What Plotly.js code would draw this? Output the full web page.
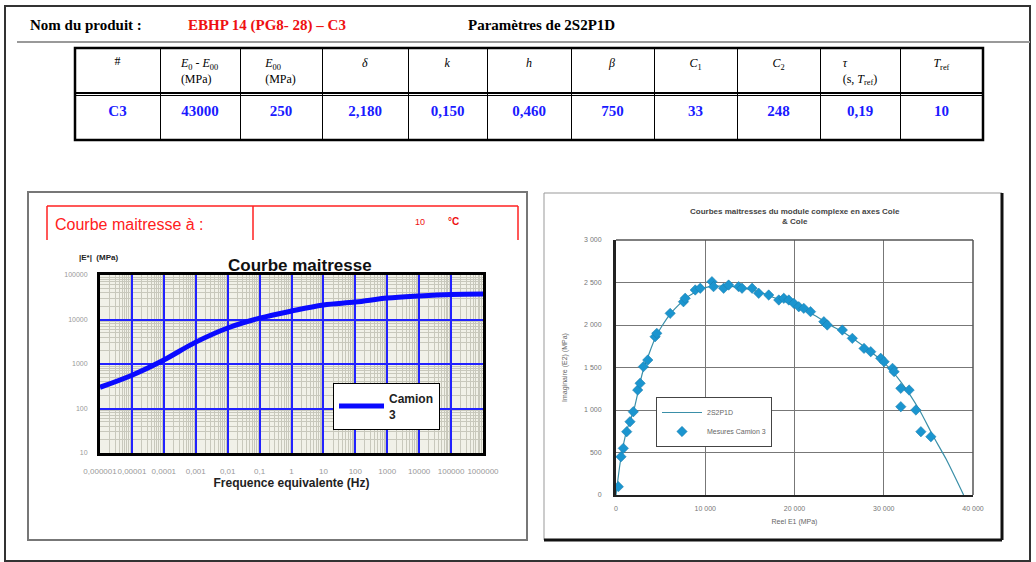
<!DOCTYPE html>
<html>
<head>
<meta charset="utf-8">
<script src="https://cdn.plot.ly/plotly-3.0.1.min.js"></script>
<style>
html,body{margin:0;padding:0;background:#fff;}
#chart{width:1036px;height:562px;}
</style>
</head>
<body>
<div id="chart"></div>
<script>
// ---------- DATA ----------
const tableHeaders = ["#", "<i>E</i><sub>0</sub> - <i>E</i><sub>00</sub><br>(MPa)", "<i>E</i><sub>00</sub><br>(MPa)", "<i>δ</i>", "<i>k</i>", "<i>h</i>", "<i>β</i>", "<i>C</i><sub>1</sub>", "<i>C</i><sub>2</sub>", "<i>τ</i><br>(s, <i>T</i><sub>ref</sub>)", "<i>T</i><sub>ref</sub>"];
const tableValues = ["C3", "43000", "250", "2,180", "0,150", "0,460", "750", "33", "248", "0,19", "10"];

const freqHz = [1e-6, 1e-5, 1e-4, 1e-3, 1e-2, 1e-1, 1, 10, 100, 1e3, 1e4, 1e5, 1e6];
const modulusMPa = [300, 560, 1230, 3100, 6450, 10700, 15500, 21200, 24600, 30300, 33800, 36500, 37400];
const freqTickVals = [1e-6, 1e-5, 1e-4, 1e-3, 1e-2, 1e-1, 1, 10, 100, 1e3, 1e4, 1e5, 1e6];
const freqTickText = ["0,000001", "0,00001", "0,0001", "0,001", "0,01", "0,1", "1", "10", "100", "1000", "10000", "100000", "1000000"];
const modTickVals = [10, 100, 1000, 10000, 100000];
const modTickText = ["10", "100", "1000", "10000", "100000"];

const e1Meas = [260, 560, 820, 1200, 1570, 1940, 2430, 2700, 3070, 3560, 4380, 4570, 6070, 7560, 7750, 8880, 9440, 10750, 10930, 12060, 12620, 13740, 14120, 15250, 15990, 17110, 18240, 18800, 19360, 19920, 20480, 21040, 21800, 23290, 23670, 25360, 26480, 27790, 28540, 29660, 30040, 30980, 31160, 31910, 32840, 31910, 33600, 34160, 35280];
const e2Meas = [98, 450, 549, 745, 862, 980, 1235, 1314, 1510, 1588, 1862, 1902, 2137, 2274, 2314, 2412, 2432, 2510, 2451, 2432, 2470, 2451, 2432, 2432, 2373, 2353, 2294, 2314, 2294, 2255, 2215, 2196, 2157, 2039, 2000, 1941, 1843, 1725, 1686, 1608, 1568, 1490, 1451, 1255, 1235, 1039, 1000, 745, 686];
const e1Model = [0, 500, 1200, 2000, 3000, 4500, 6000, 8000, 10000, 12000, 14000, 16000, 18000, 20000, 22000, 24000, 26000, 28000, 30000, 32000, 34000, 35500, 37000, 38950];
const e2Model = [0, 400, 760, 1000, 1450, 1870, 2120, 2330, 2440, 2460, 2440, 2390, 2310, 2230, 2130, 2000, 1880, 1730, 1560, 1320, 1000, 700, 420, 0];
const e1TickVals = [0, 10000, 20000, 30000, 40000];
const e1TickText = ["0", "10 000", "20 000", "30 000", "40 000"];
const e2TickVals = [0, 500, 1000, 1500, 2000, 2500, 3000];
const e2TickText = ["0", "500", "1 000", "1 500", "2 000", "2 500", "3 000"];

// ---------- LAYOUT HELPERS ----------
const W = 1036, H = 562;
const X = p => p / W;
const Y = p => 1 - p / H;
const colW = [85, 80, 82, 86, 79, 84, 83, 83, 83, 80, 83];
const serif = "Liberation Serif, Times New Roman, serif";
const sans = "Liberation Sans, Arial, sans-serif";

function line(x0, y0, x1, y1, color, width) {
  return {type: 'line', xref: 'paper', yref: 'paper', x0: X(x0), y0: Y(y0), x1: X(x1), y1: Y(y1), line: {color: color, width: width}};
}
function rect(x0, y0, x1, y1, color, width, fill, layer) {
  return {type: 'rect', xref: 'paper', yref: 'paper', x0: X(x0), y0: Y(y0), x1: X(x1), y1: Y(y1), line: {color: color, width: width}, fillcolor: fill || 'rgba(0,0,0,0)', layer: layer || 'below'};
}
function txt(x, y, text, size, color, opts) {
  return Object.assign({xref: 'paper', yref: 'paper', x: X(x), y: Y(y), text: text, showarrow: false, xanchor: 'left', yanchor: 'middle', font: {family: sans, size: size, color: color}}, opts || {});
}

// ---------- TRACES ----------
const traces = [
  {
    type: 'table',
    domain: {x: [X(75), X(983)], y: [Y(140), Y(48)]},
    columnwidth: colW,
    header: {
      values: tableHeaders,
      height: 45, align: 'center',
      line: {color: 'black', width: 1},
      fill: {color: 'white'},
      font: {family: serif, size: 12, color: 'black'}
    },
    cells: {
      values: tableValues.map(v => ['<b>' + v + '</b>']),
      height: 47, align: 'center',
      line: {color: 'black', width: 1},
      fill: {color: 'white'},
      font: {family: serif, size: 15, color: '#1a1aff'}
    }
  },
  {
    type: 'scatter', mode: 'lines', name: 'Camion<br>3',
    x: freqHz, y: modulusMPa, xaxis: 'x', yaxis: 'y',
    line: {color: '#0a0aff', width: 5, shape: 'spline', smoothing: 1},
    legend: 'legend'
  },
  {
    type: 'scatter', mode: 'lines', name: '2S2P1D',
    x: e1Model, y: e2Model, xaxis: 'x2', yaxis: 'y2',
    line: {color: '#3a8fa8', width: 1.2, shape: 'spline', smoothing: 0.6},
    legend: 'legend2'
  },
  {
    type: 'scatter', mode: 'markers', name: 'Mesures Camion 3',
    x: e1Meas, y: e2Meas, xaxis: 'x2', yaxis: 'y2',
    marker: {symbol: 'diamond', size: 8, color: '#1b95cf', line: {color: '#1a7aa8', width: 0.5}},
    legend: 'legend2'
  }
];

// ---------- LAYOUT ----------
const layout = {
  width: W, height: H,
  margin: {l: 0, r: 0, t: 0, b: 0},
  paper_bgcolor: 'white',
  plot_bgcolor: 'rgba(0,0,0,0)',
  showlegend: true,
  xaxis: {
    domain: [X(100), X(483)], anchor: 'y', type: 'log', range: [-6, 6],
    tickmode: 'array', tickvals: freqTickVals, ticktext: freqTickText, tickangle: 0,
    tickfont: {family: sans, size: 8, color: '#999'}, ticks: '', ticklabelstandoff: 8,
    showgrid: true, gridcolor: '#2222ff', gridwidth: 2,
    minor: {tickmode: 'linear', dtick: 'D1', showgrid: true, gridcolor: '#c8c8bc', gridwidth: 1},
    showline: true, linecolor: 'black', linewidth: 3, mirror: true, zeroline: false,
    title: {text: '<b>Frequence equivalente (Hz)</b>', font: {family: sans, size: 12, color: '#222'}, standoff: 2}
  },
  yaxis: {
    domain: [Y(453), Y(275)], anchor: 'x', type: 'log', range: [1, 5],
    tickmode: 'array', tickvals: modTickVals, ticktext: modTickText,
    tickfont: {family: sans, size: 7, color: '#999'}, ticks: '', ticklabelstandoff: 8,
    showgrid: true, gridcolor: '#2222ff', gridwidth: 2,
    minor: {tickmode: 'linear', dtick: 'D1', showgrid: true, gridcolor: '#c8c8bc', gridwidth: 1},
    showline: true, linecolor: 'black', linewidth: 3, mirror: true, zeroline: false
  },
  xaxis2: {
    domain: [X(616), X(973)], anchor: 'y2', range: [0, 40000],
    tickmode: 'array', tickvals: e1TickVals, ticktext: e1TickText,
    tickfont: {family: sans, size: 7, color: '#777'}, ticks: '', ticklabelstandoff: 6,
    showgrid: true, gridcolor: '#777', gridwidth: 1,
    showline: true, linecolor: '#222', linewidth: 2, mirror: false, zeroline: false,
    title: {text: 'Reel E1 (MPa)', font: {family: sans, size: 7, color: '#666'}, standoff: 8}
  },
  yaxis2: {
    domain: [Y(495), Y(240)], anchor: 'x2', range: [0, 3000],
    tickmode: 'array', tickvals: e2TickVals, ticktext: e2TickText,
    tickfont: {family: sans, size: 7, color: '#777'}, ticks: '', ticklabelstandoff: 10,
    showgrid: true, gridcolor: '#777', gridwidth: 1,
    showline: true, linecolor: '#222', linewidth: 3, mirror: false, zeroline: false,
    title: {text: 'Imaginaire (E2) (MPa)', font: {family: sans, size: 7, color: '#666'}, standoff: 16}
  },
  legend: {
    x: X(333), y: Y(383), xanchor: 'left', yanchor: 'top',
    bgcolor: 'white', bordercolor: 'black', borderwidth: 1,
    font: {family: sans, size: 12, color: '#222', weight: 'bold'},
    itemwidth: 45, tracegroupgap: 0
  },
  legend2: {
    x: X(656), y: Y(397), xanchor: 'left', yanchor: 'top',
    bgcolor: 'white', bordercolor: '#444', borderwidth: 1,
    font: {family: sans, size: 7, color: '#666'},
    itemwidth: 40, tracegroupgap: 0
  },
  shapes: [
    rect(5, 6, 1030, 561, '#333', 2),
    line(17, 42, 1030, 42, '#999', 2),
    rect(75, 48, 983, 140, 'black', 2.5, null, 'above'),
    line(75, 93, 983, 93, 'black', 2),
    // left panel
    rect(28, 192, 527, 540, '#777', 2),
    rect(100, 275, 483, 453, 'rgba(0,0,0,0)', 0, '#f1f1e8'),
    line(47, 206, 518, 206, '#ff2020', 1.5),
    line(47, 206, 47, 240, '#ff2020', 1.5),
    line(253, 206, 253, 240, '#ff2020', 1.5),
    line(518, 206, 518, 240, '#ff2020', 1.5),
    // right panel
    rect(544, 193, 1002, 540, '#999', 1),
    line(1002, 193, 1002, 540, '#111', 3),
    line(544, 540, 1002, 540, '#111', 3),
    line(973, 240, 973, 495, '#555', 1.5),
    line(616, 240, 973, 240, '#555', 1.5)
  ],
  annotations: [
    txt(28, 25, '<b>Nom du produit :</b>', 15, 'black', {font: {family: serif, size: 15, color: 'black'}}),
    txt(186, 25, '<b>EBHP 14 (PG8- 28) – C3</b>', 15, '#ee1111', {font: {family: serif, size: 15, color: '#ee1111'}}),
    txt(466, 25, '<b>Paramètres de 2S2P1D</b>', 15, 'black', {font: {family: serif, size: 15, color: 'black'}}),
    txt(53, 224, 'Courbe maitresse à :', 16, '#ff2020'),
    txt(413, 222, '10', 9, '#ee1111'),
    txt(446, 222, '<b>°C</b>', 10, '#ee1111'),
    txt(77, 257, '<b>|E*|  (MPa)</b>', 8, '#222'),
    txt(300, 265, '<b>Courbe maitresse</b>', 17, '#111', {xanchor: 'center'}),
    txt(795, 216, '<b>Courbes maitresses du module complexe en axes Cole<br>& Cole</b>', 8, '#444', {xanchor: 'center'})
  ]
};

Plotly.newPlot('chart', traces, layout, {displayModeBar: false, staticPlot: true});
</script>
</body>
</html>
